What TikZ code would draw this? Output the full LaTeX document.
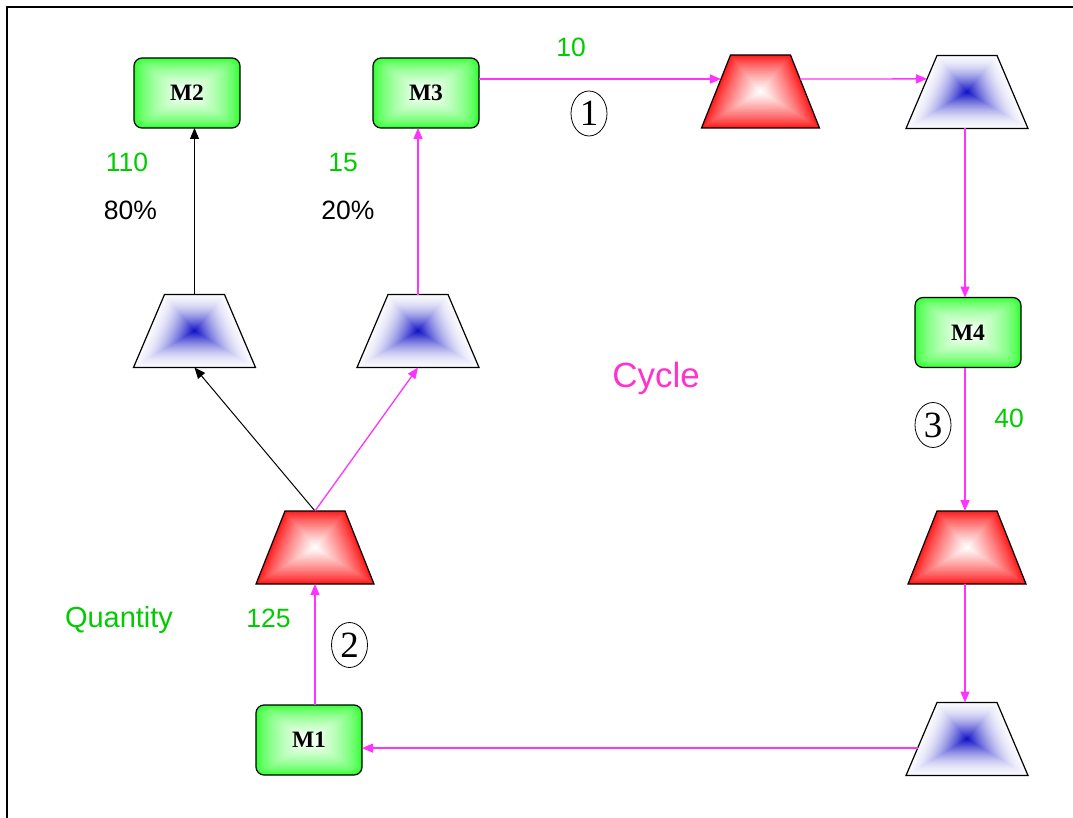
\documentclass[tikz,border=0pt]{standalone}
\usepackage{fontspec}
\setmainfont{Liberation Sans}
\newfontfamily\serifr{Liberation Serif}
\usetikzlibrary{calc,arrows.meta,shapes.geometric}
\definecolor{mag}{RGB}{255,51,255}
\definecolor{magtext}{RGB}{255,51,204}
\definecolor{gtext}{RGB}{0,204,0}
\definecolor{boxgreen}{RGB}{40,255,40}
\definecolor{tred}{RGB}{255,20,20}
\definecolor{tblue}{RGB}{20,20,200}
\definecolor{tpale}{RGB}{248,248,253}

\tikzset{
  trapbox/.style={rectangle, inner sep=0, outer sep=0, minimum height=73},
  mbox/.style={draw, line width=1.2, rounded corners=8, minimum width=106,
    minimum height=70, inner sep=0, outer sep=0,
    font=\serifr\bfseries\fontsize{23.5}{28}\selectfont,
    path picture={
      \foreach \i in {0,...,39}{
        \pgfmathsetmacro\s{1-\i/40}
        \pgfmathsetmacro\p{100*(\i/39)^0.6}
        \pgfmathsetmacro\r{8*\s}
        \fill[white!\p!boxgreen, rounded corners=\r pt]
          ([shift={(-53*\s,-35*\s)}]path picture bounding box.center) rectangle
          ([shift={(53*\s,35*\s)}]path picture bounding box.center);
      }}},
  circnum/.style={draw, ellipse, line width=0.8, minimum width=36,
    minimum height=45, inner sep=0, font=\serifr\fontsize{37}{40}\selectfont},
  lbl/.style={inner sep=0, anchor=base, font=\fontsize{26.5}{30}\selectfont},
  magconn/.style={mag, line width=1.3, -{Triangle[length=11pt,width=9pt]}},
  blkconn/.style={black, line width=1.0, -{Triangle[length=11pt,width=9pt]}},
}

% name, cx, cy, bottom half width, top half width, outer colour, inner colour, exponent
\newcommand\gradtrap[8]{%
  \node[trapbox, minimum width={2*#4}] (#1) at (#2,#3) {};
  \coordinate (#1-bl) at ({#2-#4},{#3+36.5});
  \coordinate (#1-br) at ({#2+#4},{#3+36.5});
  \coordinate (#1-tr) at ({#2+#5},{#3-36.5});
  \coordinate (#1-tl) at ({#2-#5},{#3-36.5});
  \foreach \i in {0,...,39}{
    \pgfmathsetmacro\s{1-\i/40}
    \pgfmathsetmacro\p{100*(\i/39)^#8}
    \fill[#7!\p!#6] ({#2-#4*\s},{#3+36.5*\s}) -- ({#2+#4*\s},{#3+36.5*\s})
      -- ({#2+#5*\s},{#3-36.5*\s}) -- ({#2-#5*\s},{#3-36.5*\s}) -- cycle;
  }
  \draw[line width=1.2, line join=miter] (#1-bl) -- (#1-br) -- (#1-tr) -- (#1-tl) -- cycle;
}

\begin{document}
\begin{tikzpicture}[x=1pt, y=-1pt]
\useasboundingbox (0,0) rectangle (1073,818);
\fill[white] (0,0) rectangle (1073,818);
\draw[line width=2] (7,818) -- (7,7) -- (1073,7);

% trapezoids
\gradtrap{tA}{760.5}{91.5}{59}{30}{tred}{white}{0.8}
\gradtrap{tB}{967}{92}{61}{30}{tpale}{tblue}{1.7}
\gradtrap{tC}{967}{547.5}{59}{30}{tred}{white}{0.8}
\gradtrap{tD}{967}{739}{61}{30}{tpale}{tblue}{1.7}
\gradtrap{tE}{194.5}{331}{61}{30}{tpale}{tblue}{1.7}
\gradtrap{tF}{418}{331}{61}{30}{tpale}{tblue}{1.7}
\gradtrap{tG}{315}{547.5}{59}{30}{tred}{white}{0.8}

% machine boxes
\node[mbox] (m2) at (187,93) {M2};
\node[mbox] (m3) at (426,93) {M3};
\node[mbox] (m4) at (968,332.5) {M4};
\node[mbox] (m1) at (309,740) {M1};

% connectors
\draw[blkconn] (tG.north) -- (tE.south);
\draw[magconn] (tG.north) -- (tF.south);
\draw[blkconn] (tE.north) -- (tE.north |- m2.south);
\draw[magconn] (tF.north) -- (tF.north |- m3.south);

\coordinate (pA) at ($(tA-bl)!0.671!(tA-tl)$);
\coordinate (pA2) at ($(tA-br)!0.671!(tA-tr)$);
\coordinate (pB) at ($(tB-bl)!0.68!(tB-tl)$);
\coordinate (pD) at ($(tD-bl)!0.375!(tD-tl)$);
\draw[magconn] (pA -| m3.east) -- (pA);
\draw[magconn] (pA2) -- (pB);
\draw[magconn] ([xshift=-2]tB.south) -- ([xshift=-2]tB.south |- m4.north);
\draw[magconn] ([xshift=-2]tB.south |- m4.south) -- ([xshift=-2]tC.north);
\draw[magconn] ([xshift=-2]tC.south) -- ([xshift=-2]tD.north);
\draw[magconn] (pD) -- (pD -| m1.east);
\draw[magconn] (tG.south |- m1.north) -- (tG.south);

% labels
\node[lbl, gtext] (l10) at (571,57) {10};
\node[lbl, gtext] (l110) at (127,172) {110};
\node[lbl] (l80) at (130.5,220) {80\%};
\node[lbl, gtext] (l15) at (343,172) {15};
\node[lbl] (l20) at (348,220) {20\%};
\node[lbl, gtext] (l40) at (1009,427) {40};
\node[lbl, gtext] (l125) at (268.5,627) {125};
\node[lbl, gtext, font=\fontsize{29}{33}\selectfont] (lq) at (119,627) {Quantity};
\node[lbl, magtext, font=\fontsize{35}{40}\selectfont] (lc) at (656,387) {Cycle};

\node[circnum] (c1) at (589,113.5) {1};
\node[circnum] (c2) at (349.5,645) {2};
\node[circnum] (c3) at (933,425) {3};
\end{tikzpicture}
\end{document}
